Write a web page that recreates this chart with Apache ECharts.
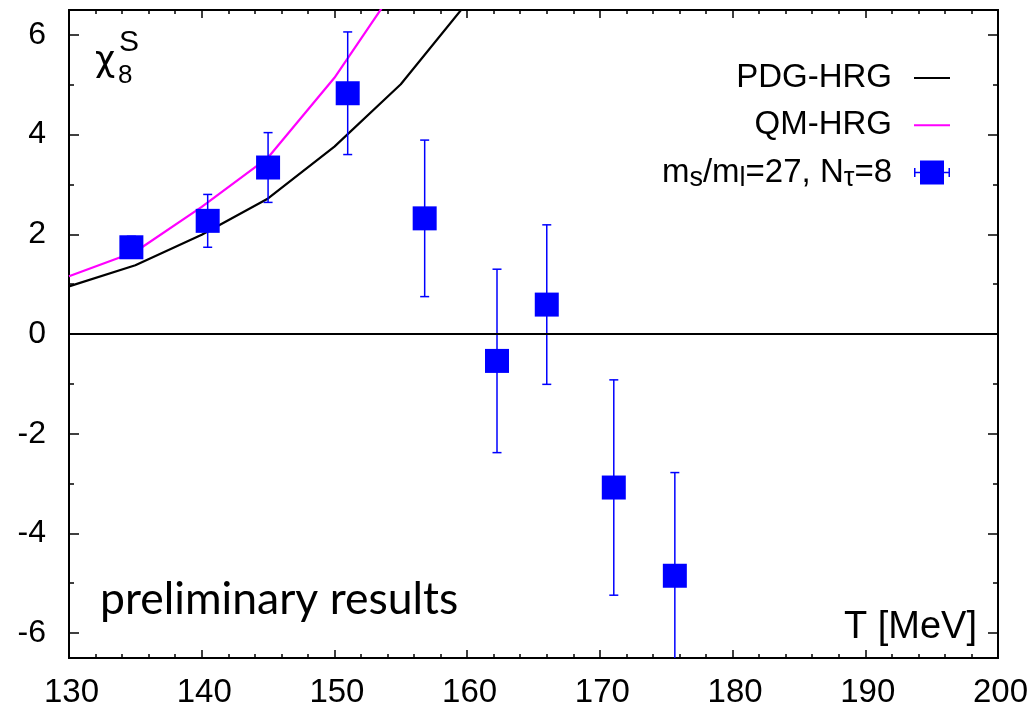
<!DOCTYPE html>
<html>
<head>
<meta charset="utf-8">
<script src="https://cdn.jsdelivr.net/npm/echarts@6/dist/echarts.min.js"></script>
<style>html,body{margin:0;padding:0;background:#fff}#c{width:1036px;height:711px}</style>
</head>
<body>
<div id="c"></div>
<script>
// ---- data ----
const latT   = [134.7, 140.45, 145.0, 151.0, 156.8, 162.25, 166.0, 171.05, 175.65];
const latChi = [1.74, 2.27, 3.34, 4.83, 2.32, -0.54, 0.59, -3.08, -4.85];
const latErr = [0.22, 0.53, 0.70, 1.23, 1.57, 1.84, 1.60, 2.16, 2.07];

const pdgT   = [130, 135, 140, 145, 150, 155, 160];
const pdgChi = [0.955, 1.38, 1.99, 2.72, 3.76, 5.01, 6.65];

const qmT    = [130, 135, 140, 145, 150, 155];
const qmChi  = [1.16, 1.65, 2.55, 3.54, 5.14, 7.10];

const xTicks = [130, 140, 150, 160, 170, 180, 190, 200];
const yMajor = [-6, -4, -2, 0, 2, 4, 6];
const yMinor = [-5, -3, -1, 1, 3, 5];

const latName = 'lattice';
const FONT = '"Liberation Sans", Arial, Helvetica, sans-serif';

const pdgData = pdgT.map((t, i) => [t, pdgChi[i]]);
const qmData = qmT.map((t, i) => [t, qmChi[i]]);
const latData = latT.map((t, i) => [t, latChi[i]]);
const errData = latT.map((t, i) => [t, latChi[i], latChi[i] - latErr[i], latChi[i] + latErr[i]]);

const errIcon = 'path://M0 7.5h1.5v9H0zM0 11.25h36v1.5H0zM34.5 7.5H36v9h-1.5zM6 0h24v24H6z';
const lineIcon = 'path://M0 11h36v2H0zM0 0h0.01v0.01H0zM35.99 23.99h0.01v0.01h-0.01z';

const chart = echarts.init(document.getElementById('c'), null, {renderer: 'canvas'});

const axisLine = {show: true, onZero: false, lineStyle: {color: '#000', width: 2}};

function yAx(pos, ticks, len, labels) {
  return {
    type: 'value', position: pos, min: -6.5, max: 6.5,
    axisLine: axisLine,
    splitLine: {show: false},
    axisTick: {show: true, inside: true, length: len, customValues: ticks, lineStyle: {color: '#000', width: 1.5}},
    axisLabel: labels ? {show: true, customValues: ticks, fontSize: 32, fontFamily: FONT, color: '#000', margin: 23} : {show: false}
  };
}
function xAx(pos, labels) {
  return {
    type: 'value', position: pos, min: 130, max: 200, interval: 10,
    axisLine: axisLine,
    splitLine: {show: false},
    axisTick: {show: true, inside: true, length: 8, lineStyle: {color: '#000', width: 1.5}},
    minorTick: {show: true, splitNumber: 5, length: 4, lineStyle: {color: '#000', width: 1.5}},
    minorSplitLine: {show: false},
    axisLabel: labels ? {show: true, fontSize: 33, fontFamily: FONT, color: '#000', margin: 18, padding: [0, 0, 0, 5]} : {show: false}
  };
}

chart.setOption({
  animation: false,
  backgroundColor: '#fff',
  grid: {left: 69, right: 38, top: 10, bottom: 53, containLabel: false},
  xAxis: [xAx('bottom', true), xAx('top', false)],
  yAxis: [yAx('left', yMajor, 10, true), yAx('left', yMinor, 5, false), yAx('right', yMajor, 10, false), yAx('right', yMinor, 5, false)],
  legend: {
    orient: 'vertical', right: 86, top: 58, align: 'right', padding: 0,
    itemWidth: 36, itemHeight: 24, itemGap: 7.25,
    selectedMode: false,
    textStyle: {fontSize: 33, fontFamily: FONT, color: '#000', lineHeight: 40, padding: [0, 17, 0, 0],
      rich: {
        a: {fontSize: 33, fontFamily: FONT, color: '#000', lineHeight: 40, verticalAlign: 'middle'},
        b: {fontSize: 27, fontFamily: FONT, color: '#000', lineHeight: 18, verticalAlign: 'bottom'}
      }
    },
    formatter: function (name) {
      if (name === latName) return '{a|m}{b|s}{a|/m}{b|l}{a|=27, N}{b|τ}{a|=8}';
      return name;
    },
    data: [
      {name: 'PDG-HRG', icon: lineIcon},
      {name: 'QM-HRG', icon: lineIcon},
      {name: latName, icon: errIcon}
    ]
  },
  graphic: [
    {type: 'text', style: {text: 'χ', x: 95, y: 62, fontSize: 35, fontFamily: '"DejaVu Sans", sans-serif', fill: '#000', verticalAlign: 'middle'}, silent: true},
    {type: 'text', style: {text: '8', x: 118, y: 76, fontSize: 26, fontFamily: FONT, fill: '#000', verticalAlign: 'middle'}, silent: true},
    {type: 'text', style: {text: 'S', x: 119, y: 43, fontSize: 30, fontFamily: FONT, fill: '#000', verticalAlign: 'middle'}, silent: true},
    {type: 'text', style: {text: 'preliminary results', x: 100, y: 600, fontSize: 44.5, fontFamily: 'Lato, "Open Sans", sans-serif', fill: '#000', verticalAlign: 'middle'}, silent: true},
    {type: 'text', style: {text: 'T [MeV]', x: 977, y: 628, fontSize: 38, fontFamily: FONT, fill: '#000', align: 'right', verticalAlign: 'middle'}, silent: true}
  ],
  series: [
    {
      name: 'PDG-HRG', type: 'line', data: pdgData, showSymbol: false, symbol: 'none',
      lineStyle: {color: '#000', width: 2.2}, itemStyle: {color: '#000'}, clip: true, z: 3,
      markLine: {silent: true, symbol: 'none', label: {show: false}, lineStyle: {color: '#000', width: 2, type: 'solid'}, data: [{yAxis: 0}]}
    },
    {
      name: 'QM-HRG', type: 'line', data: qmData, showSymbol: false, symbol: 'none',
      lineStyle: {color: '#ff00ff', width: 2.2}, itemStyle: {color: '#ff00ff'}, clip: true, z: 3
    },
    {
      name: latName, type: 'custom', data: errData, z: 4,
      renderItem: function (params, api) {
        const x = api.value(0), lo = api.value(2), hi = api.value(3);
        const pHi = api.coord([x, hi]), pLo = api.coord([x, lo]);
        const cs = params.coordSys;
        const top = Math.max(pHi[1], cs.y), bot = Math.min(pLo[1], cs.y + cs.height);
        const st = {stroke: '#0000ff', lineWidth: 1.5};
        const ch = [{type: 'line', shape: {x1: pHi[0], y1: top, x2: pHi[0], y2: bot}, style: st}];
        if (pHi[1] >= cs.y) ch.push({type: 'line', shape: {x1: pHi[0] - 4.5, y1: pHi[1], x2: pHi[0] + 4.5, y2: pHi[1]}, style: st});
        if (pLo[1] <= cs.y + cs.height) ch.push({type: 'line', shape: {x1: pLo[0] - 4.5, y1: pLo[1], x2: pLo[0] + 4.5, y2: pLo[1]}, style: st});
        return {type: 'group', children: ch};
      },
      itemStyle: {color: '#0000ff'}
    },
    {
      name: latName, type: 'scatter', data: latData, symbol: 'rect', symbolSize: 24,
      itemStyle: {color: '#0000ff', opacity: 1}, z: 5
    }
  ]
});
</script>
</body>
</html>
